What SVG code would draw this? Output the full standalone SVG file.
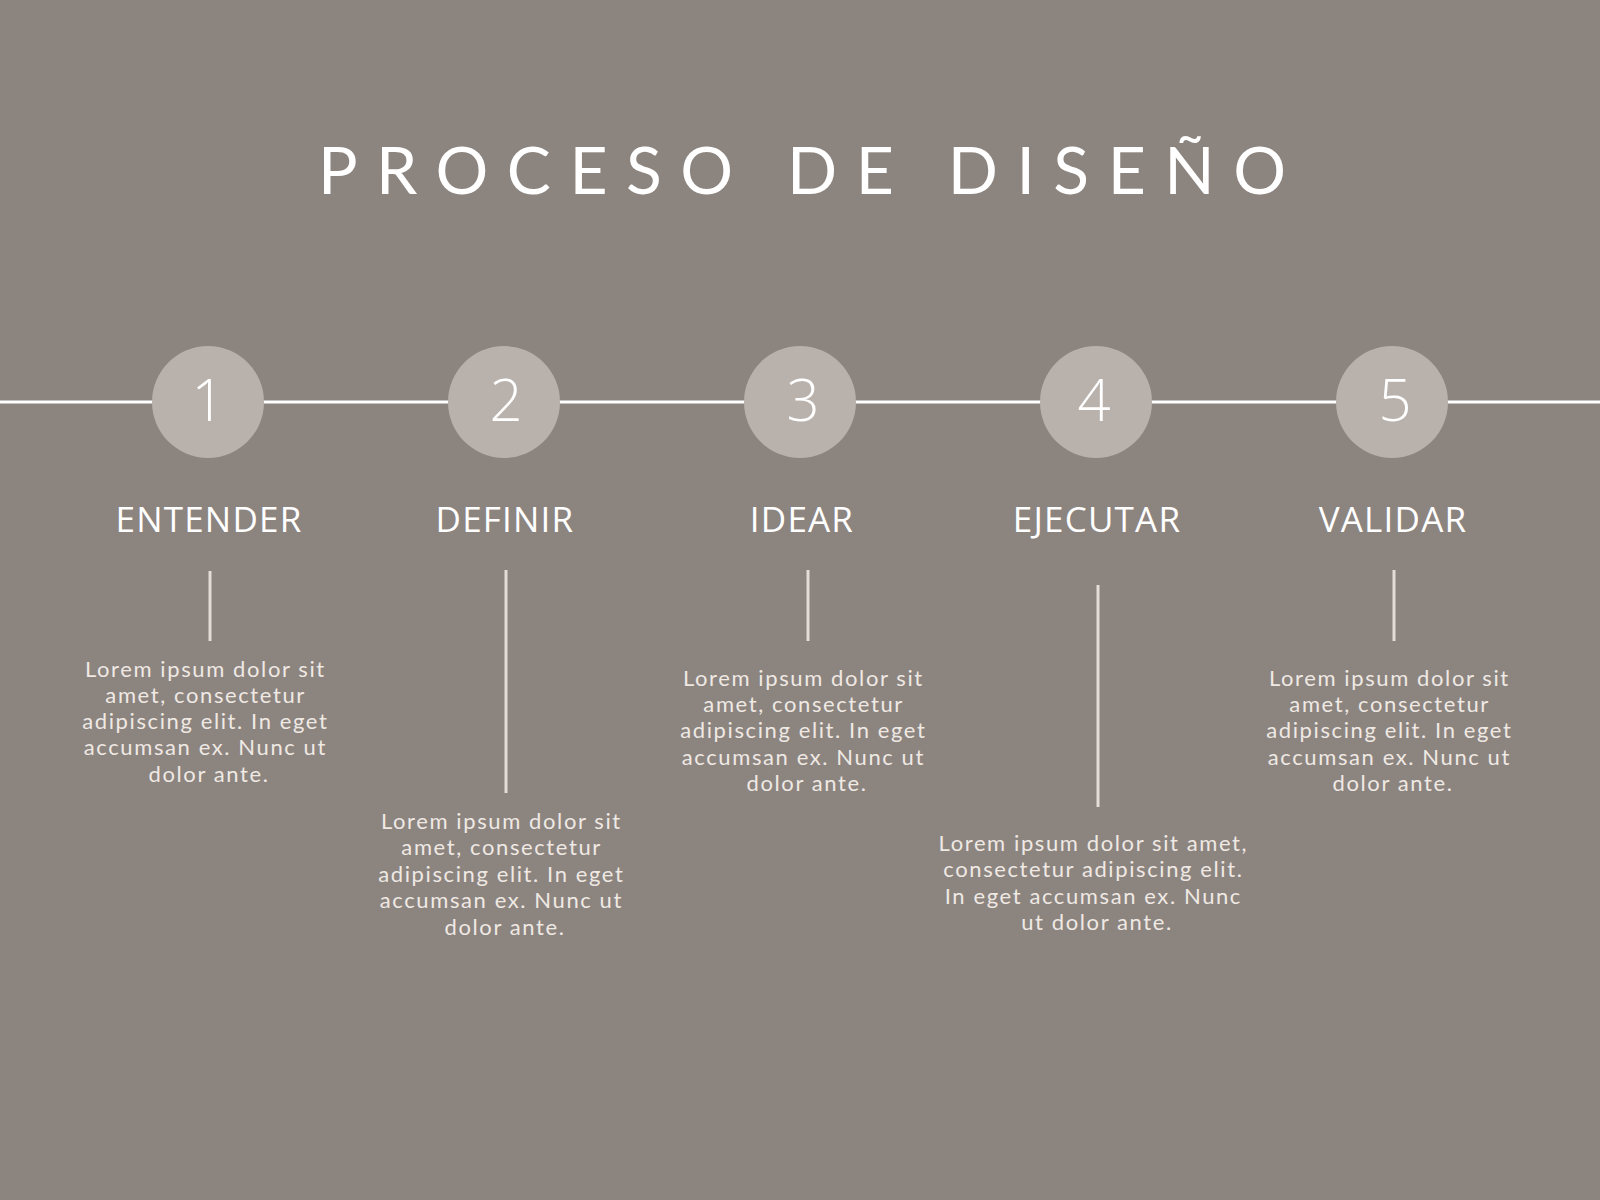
<svg xmlns="http://www.w3.org/2000/svg" width="1600" height="1200" viewBox="0 0 1600 1200">
  <style>
    .bg { fill: #8c847f; }
    .title { font-family: "Lato", "Open Sans", "Liberation Sans", sans-serif; font-size: 66px; fill: #ffffff; font-weight: 400; }
    .circ { fill: #b8b1ac; }
    .num { font-family: "Open Sans", "Liberation Sans", sans-serif; font-size: 58px; fill: #ffffff; text-anchor: middle; font-weight: 300; }
    .label { font-family: "Open Sans", "Liberation Sans", sans-serif; font-size: 35px; fill: #ffffff; text-anchor: middle; letter-spacing: 1.2px; }
    .body { font-family: "Lato", "Open Sans", "Liberation Sans", sans-serif; font-size: 22px; fill: #efe9e4; text-anchor: middle; letter-spacing: 1.6px; }
    .stem { stroke: #e2ddd9; stroke-width: 3; }
    .axis { stroke: #ffffff; stroke-width: 3; }
  </style>
  <rect class="bg" x="0" y="0" width="1600" height="1200"/>
  <text id="title" class="title" x="318" y="194" textLength="968" lengthAdjust="spacing">PROCESO DE DISEÑO</text>

  <g id="connectors">
    <line class="axis" x1="0" y1="402" x2="1600" y2="402"/>
    <line class="stem" x1="210" y1="571" x2="210" y2="641"/>
    <line class="stem" x1="506" y1="570" x2="506" y2="793"/>
    <line class="stem" x1="808" y1="570" x2="808" y2="641"/>
    <line class="stem" x1="1098" y1="585" x2="1098" y2="807"/>
    <line class="stem" x1="1394" y1="570" x2="1394" y2="641"/>
  </g>

  <g id="step1">
    <circle class="circ" cx="208" cy="402" r="56"/>
    <text class="num" x="208" y="421">1</text>
    <text class="label" x="209" y="532">ENTENDER</text>
    <text class="body" x="209" y="677">
      <tspan x="209" y="677">Lorem ipsum dolor sit</tspan>
      <tspan x="209" y="703">amet, consectetur</tspan>
      <tspan x="209" y="729">adipiscing elit. In eget</tspan>
      <tspan x="209" y="755">accumsan ex. Nunc ut</tspan>
      <tspan x="209" y="782">dolor ante.</tspan>
    </text>
  </g>

  <g id="step2">
    <circle class="circ" cx="504" cy="402" r="56"/>
    <text class="num" x="506" y="421">2</text>
    <text class="label" x="505" y="532">DEFINIR</text>
    <text class="body" x="505" y="829">
      <tspan x="505" y="829">Lorem ipsum dolor sit</tspan>
      <tspan x="505" y="855">amet, consectetur</tspan>
      <tspan x="505" y="882">adipiscing elit. In eget</tspan>
      <tspan x="505" y="908">accumsan ex. Nunc ut</tspan>
      <tspan x="505" y="935">dolor ante.</tspan>
    </text>
  </g>

  <g id="step3">
    <circle class="circ" cx="800" cy="402" r="56"/>
    <text class="num" x="803" y="421">3</text>
    <text class="label" x="802" y="532">IDEAR</text>
    <text class="body" x="807" y="686">
      <tspan x="807" y="686">Lorem ipsum dolor sit</tspan>
      <tspan x="807" y="712">amet, consectetur</tspan>
      <tspan x="807" y="738">adipiscing elit. In eget</tspan>
      <tspan x="807" y="765">accumsan ex. Nunc ut</tspan>
      <tspan x="807" y="791">dolor ante.</tspan>
    </text>
  </g>

  <g id="step4">
    <circle class="circ" cx="1096" cy="402" r="56"/>
    <text class="num" x="1094" y="421">4</text>
    <text class="label" x="1097" y="532">EJECUTAR</text>
    <text class="body" x="1097" y="851">
      <tspan x="1097" y="851">Lorem ipsum dolor sit amet,</tspan>
      <tspan x="1097" y="877">consectetur adipiscing elit.</tspan>
      <tspan x="1097" y="904">In eget accumsan ex. Nunc</tspan>
      <tspan x="1097" y="930">ut dolor ante.</tspan>
    </text>
  </g>

  <g id="step5">
    <circle class="circ" cx="1392" cy="402" r="56"/>
    <text class="num" x="1395" y="421">5</text>
    <text class="label" x="1393" y="532">VALIDAR</text>
    <text class="body" x="1393" y="686">
      <tspan x="1393" y="686">Lorem ipsum dolor sit</tspan>
      <tspan x="1393" y="712">amet, consectetur</tspan>
      <tspan x="1393" y="738">adipiscing elit. In eget</tspan>
      <tspan x="1393" y="765">accumsan ex. Nunc ut</tspan>
      <tspan x="1393" y="791">dolor ante.</tspan>
    </text>
  </g>
</svg>
